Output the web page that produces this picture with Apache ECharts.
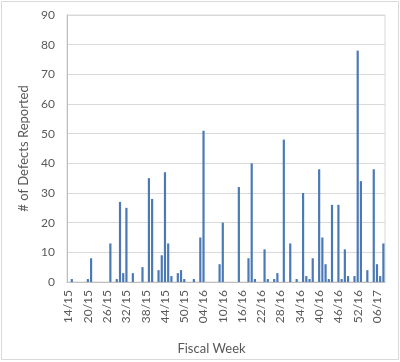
<!DOCTYPE html>
<html><head><meta charset="utf-8">
<script src="https://cdn.jsdelivr.net/npm/echarts@6/dist/echarts.min.js"></script>
<style>html,body{margin:0;padding:0;background:#fff}#c{width:400px;height:362px}</style>
</head><body><div id="c"></div>
<script>
const weeks = [
 '14/15','15/15','16/15','17/15','18/15','19/15','20/15','21/15','22/15','23/15','24/15','25/15','26/15','27/15','28/15','29/15','30/15','31/15','32/15','33/15','34/15','35/15','36/15','37/15','38/15','39/15','40/15','41/15','42/15','43/15','44/15','45/15','46/15','47/15','48/15','49/15','50/15','51/15','52/15',
 '01/16','02/16','03/16','04/16','05/16','06/16','07/16','08/16','09/16','10/16','11/16','12/16','13/16','14/16','15/16','16/16','17/16','18/16','19/16','20/16','21/16','22/16','23/16','24/16','25/16','26/16','27/16','28/16','29/16','30/16','31/16','32/16','33/16','34/16','35/16','36/16','37/16','38/16','39/16','40/16','41/16','42/16','43/16','44/16','45/16','46/16','47/16','48/16','49/16','50/16','51/16','52/16',
 '01/17','02/17','03/17','04/17','05/17','06/17','07/17','08/17'
];
const defects = [
 0,1,0,0,0,0,1,8,0,0,
 0,0,0,13,0,1,27,3,25,0,
 3,0,0,5,0,35,28,0,4,9,
 37,13,2,0,3,4,1,0,0,1,
 0,15,51,0,0,0,0,6,20,0,
 0,0,0,32,0,0,8,40,1,0,
 0,11,1,0,1,3,0,48,0,13,
 0,1,0,30,2,1,8,0,38,15,
 6,1,26,0,26,1,11,2,0,2,
 78,34,0,4,0,38,6,2,13
];
const yTicks = {min: 0, max: 90, interval: 10};

const chart = echarts.init(document.getElementById('c'), null, {renderer: 'canvas'});
const txt = '#595959';
const font = 'Lato, "Open Sans", sans-serif';
chart.setOption({
  animation: false,
  backgroundColor: '#fff',
  graphic: [{
    type: 'rect', shape: {x: 1.5, y: 1.5, width: 397, height: 358},
    style: {fill: 'none', stroke: '#d9d9d9', lineWidth: 1}, silent: true, z: -1
  }],
  grid: {left: 67, right: 15, top: 15, bottom: 80, show: true, borderColor: '#d9d9d9', borderWidth: 1, containLabel: false},
  xAxis: {
    type: 'category', data: weeks,
    name: 'Fiscal Week', nameLocation: 'middle', nameGap: 60,
    nameTextStyle: {color: txt, fontSize: 13, fontFamily: font, padding: [0, 29, 0, 0]},
    axisLine: {lineStyle: {color: '#bfbfbf'}},
    axisTick: {show: false},
    axisLabel: {interval: 5, rotate: 90, color: txt, fontSize: 12, fontFamily: font, margin: 8},
    splitLine: {show: false}
  },
  yAxis: {
    type: 'value', min: yTicks.min, max: yTicks.max, interval: yTicks.interval,
    name: '# of Defects Reported', nameLocation: 'middle', nameGap: 36,
    nameTextStyle: {color: txt, fontSize: 13, fontFamily: font},
    axisLine: {show: true, lineStyle: {color: '#bfbfbf'}},
    axisTick: {show: false},
    axisLabel: {color: txt, fontSize: 12, fontFamily: font, margin: 12},
    splitLine: {lineStyle: {color: '#d9d9d9'}}
  },
  series: [{
    type: 'bar', data: defects, barCategoryGap: '32%',
    itemStyle: {color: '#4a79b5'}
  }]
});
</script></body></html>
